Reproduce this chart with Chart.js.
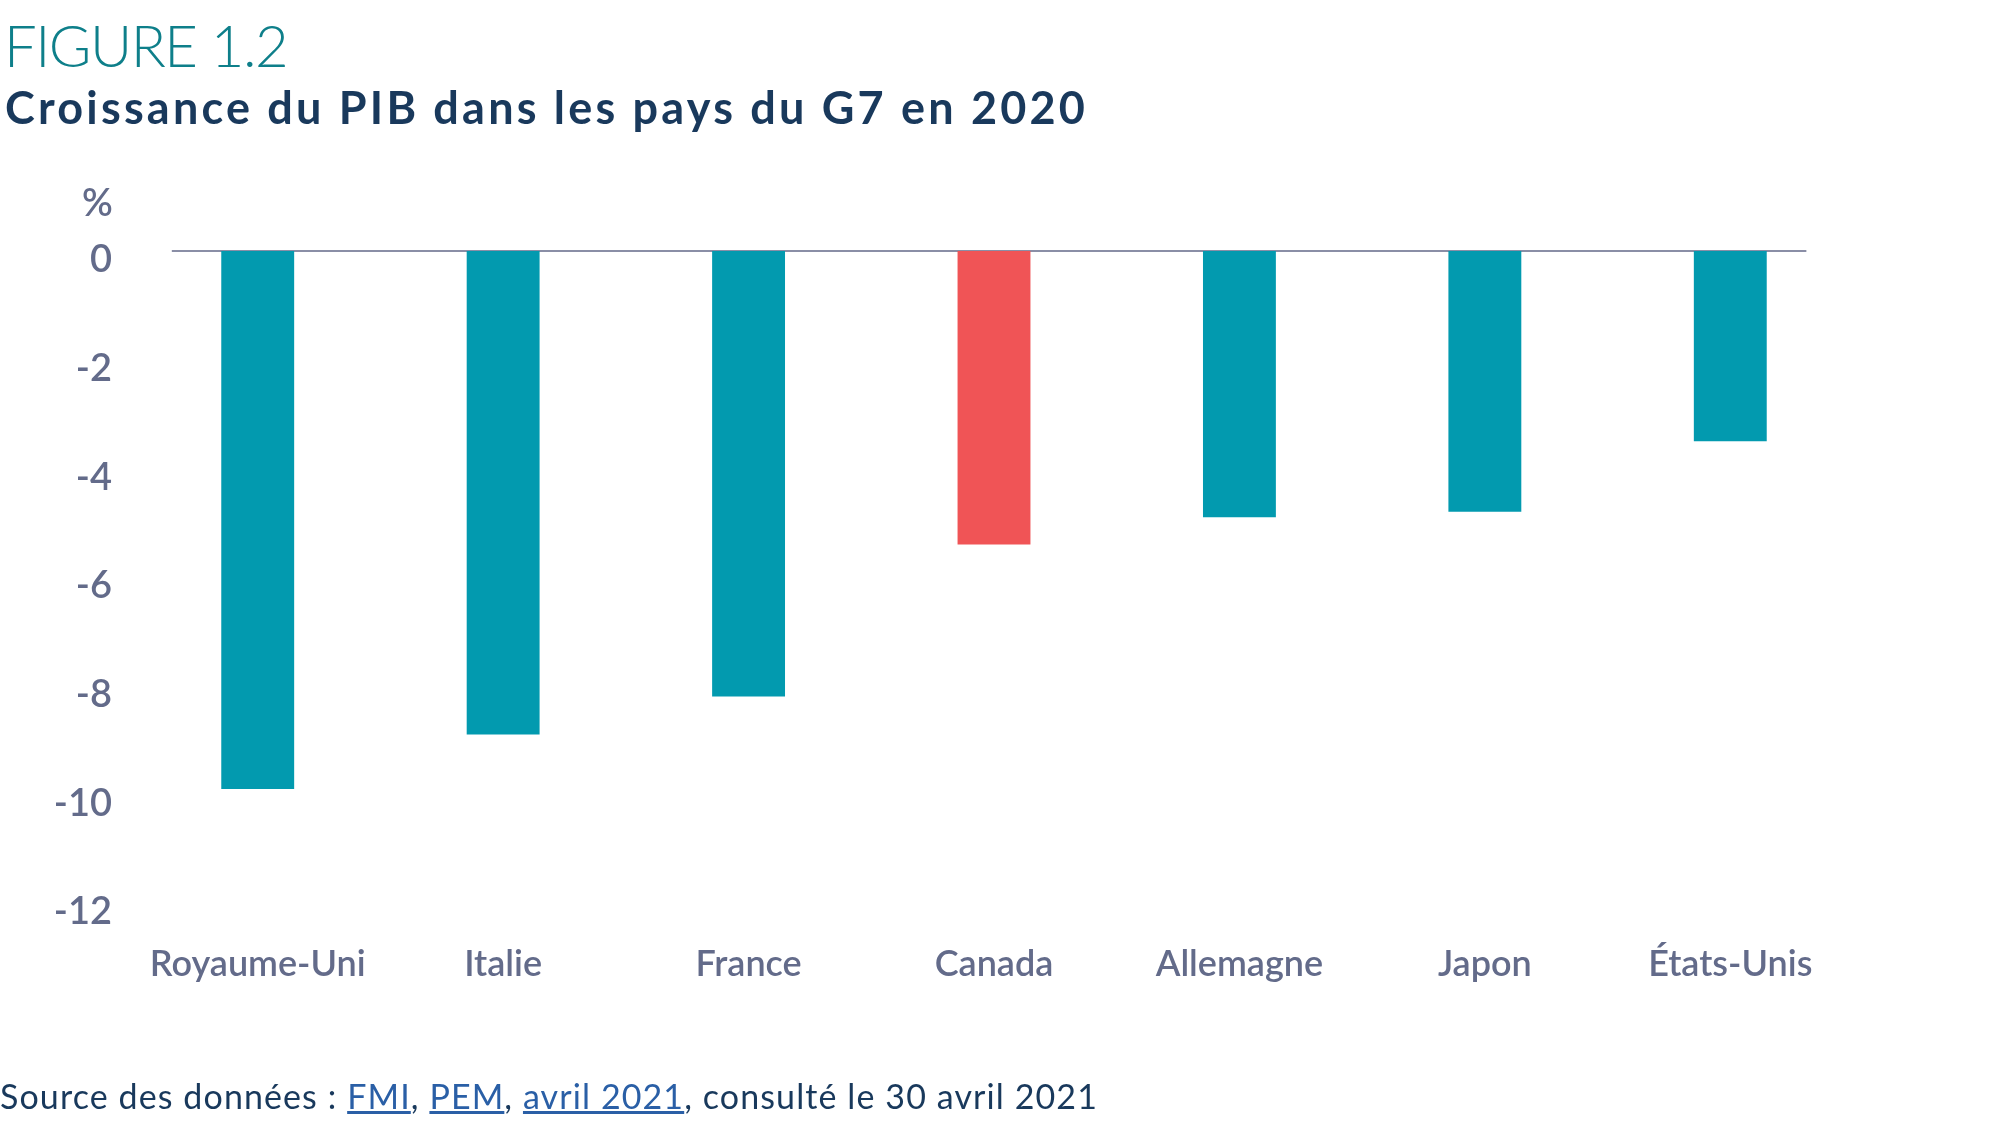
<!DOCTYPE html>
<html lang="fr">
<head>
<meta charset="utf-8">
<script src="https://cdn.jsdelivr.net/npm/chart.js@4/dist/chart.umd.min.js"></script>
<style>
  html, body { margin: 0; padding: 0; background: #fff; }
  body { width: 2005px; height: 1131px; position: relative; overflow: hidden; font-family: Lato, "Noto Sans", sans-serif; }
  #fig { position: absolute; left: 4px; top: 10px; font-size: 58px; font-weight: 300; color: #0e7f8a; letter-spacing: -1.5px; }
  #title { position: absolute; left: 5px; top: 80px; font-size: 45px; font-weight: 700; color: #19395c; letter-spacing: 3.2px; }
  #unit { position: absolute; left: 82px; top: 178px; font-size: 38px; font-weight: 600; color: #636b8a; letter-spacing: 1px; }
  #source { position: absolute; left: 0px; top: 1075px; font-size: 34px; color: #19395c; letter-spacing: 1.1px; }
  #source a { color: #2a5fa6; text-decoration: underline; }
  #chartBox { position: absolute; left: 0; top: 0; width: 2005px; height: 1131px; }
</style>
</head>
<body>
<div id="chartBox"><canvas id="gdpChart" width="2005" height="1131"></canvas></div>
<div id="fig">FIGURE 1.2</div>
<div id="title">Croissance du PIB dans les pays du G7 en 2020</div>
<div id="unit">%</div>
<div id="source">Source des données : <a>FMI</a>, <a>PEM</a>, <a>avril 2021</a>, consulté le 30 avril 2021</div>
<script>
/* Croissance du PIB, pays du G7, 2020 (%) */
const countries = ['Royaume-Uni', 'Italie', 'France', 'Canada', 'Allemagne', 'Japon', 'États-Unis'];
const growth2020 = [-9.9, -8.9, -8.2, -5.4, -4.9, -4.8, -3.5];
const highlighted = 'Canada';
const yTicks = [0, -2, -4, -6, -8, -10, -12];

const TEAL = '#029aaf';
const RED = '#f05456';
const LABEL = '#636b8a';

// ligne du zéro, plus courte que la zone du graphique
const zeroLine = {
    id: 'zeroLine',
    beforeDatasetsDraw(chart) {
        const x = chart.scales.x, y = chart.scales.y;
        const step = x.getPixelForValue(1) - x.getPixelForValue(0);
        const y0 = y.getPixelForValue(0);
        const ctx = chart.ctx;
        ctx.save();
        ctx.strokeStyle = '#8a8ea6';
        ctx.lineWidth = 2;
        ctx.beginPath();
        ctx.moveTo(x.getPixelForValue(0) - 0.35 * step, y0);
        ctx.lineTo(x.getPixelForValue(countries.length - 1) + 0.31 * step, y0);
        ctx.stroke();
        ctx.restore();
    }
};

new Chart(document.getElementById('gdpChart').getContext('2d'), {
    type: 'bar',
    data: {
        labels: countries,
        datasets: [{
            label: 'Croissance du PIB',
            data: growth2020,
            backgroundColor: countries.map(c => c === highlighted ? RED : TEAL),
            borderWidth: 0,
            categoryPercentage: 1,
            barPercentage: 0.297
        }]
    },
    options: {
        responsive: false,
        animation: false,
        layout: { padding: { top: 251, right: 152, bottom: 128, left: 0 } },
        plugins: {
            legend: { display: false },
            title: { display: false },
            tooltip: { enabled: false }
        },
        scales: {
            x: {
                grid: { display: false, drawTicks: false },
                border: { display: false },
                ticks: {
                    color: LABEL,
                    padding: 40,
                    maxRotation: 0,
                    font: { family: 'Lato', size: 36, weight: '600' }
                },
                afterFit: s => { s.height = 100; }
            },
            y: {
                min: -12,
                max: 0,
                grid: { display: false, drawTicks: false },
                border: { display: false },
                afterBuildTicks: s => { s.ticks = yTicks.map(v => ({ value: v })); },
                ticks: {
                    color: LABEL,
                    padding: 23,
                    labelOffset: 9,
                    font: { family: 'Lato', size: 38, weight: '600' },
                    callback: v => String(v)
                },
                afterFit: s => { s.width = 135; }
            }
        }
    },
    plugins: [zeroLine]
});
</script>
</body>
</html>
